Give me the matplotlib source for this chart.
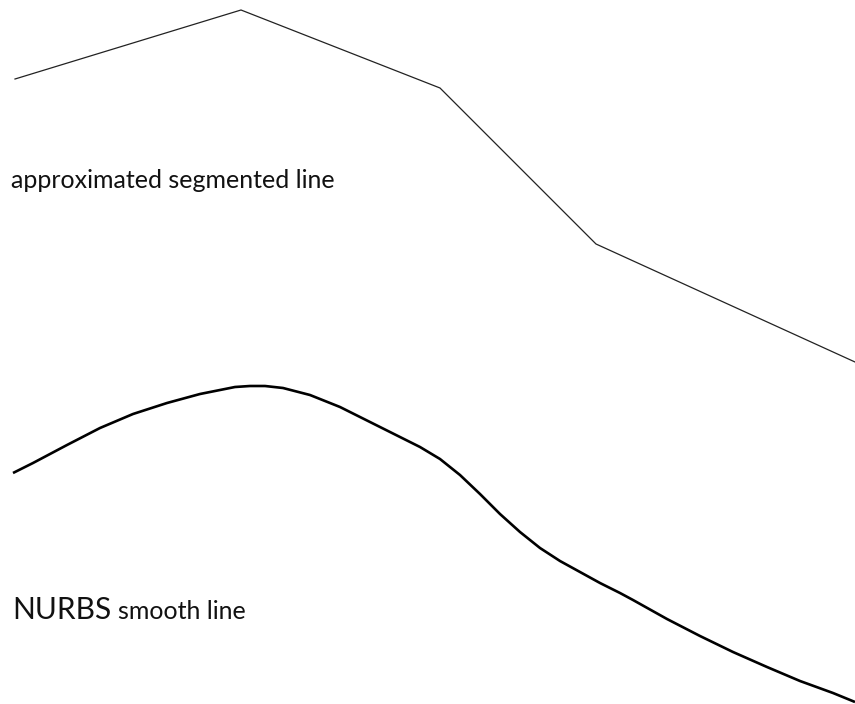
import matplotlib
matplotlib.use("Agg")
import matplotlib.pyplot as plt

# segmented polyline (pixel coords, y down)
seg_x = [15, 241, 440, 596, 855]
seg_y = [79, 10, 88, 244, 362]

# smooth curve, points read along the drawn NURBS
nurbs_x = [13, 33, 67, 100, 133, 167, 200, 220, 235, 250, 265, 283, 310, 340,
           370, 400, 420, 440, 460, 480, 500, 520, 540, 560, 580, 600, 620,
           633, 667, 700, 733, 767, 800, 833, 855]
nurbs_y = [473, 463, 445, 428, 414, 403, 394, 390, 387, 386, 386, 388, 395, 407,
           422, 437, 447, 459, 475, 494, 514, 532, 548, 561, 572, 583, 593,
           600, 619, 636, 652, 667, 681, 693, 702]

fig = plt.figure(figsize=(8.55, 7.04), dpi=100)
ax = fig.add_axes([0, 0, 1, 1])
ax.set_xlim(0, 855)
ax.set_ylim(704, 0)
ax.axis("off")

ax.plot(seg_x, seg_y, color="#222222", lw=0.9, solid_joinstyle="miter")
ax.plot(nurbs_x, nurbs_y, color="black", lw=1.9, solid_capstyle="butt",
        solid_joinstyle="round")

font = "Lato"
ax.text(11, 188, "approximated segmented line", fontsize=18, family=font,
        color="#111111", va="baseline", ha="left")
ax.text(12, 619, "NURBS", fontsize=21.5, family=font, color="#111111",
        va="baseline", ha="left")
ax.text(118, 619, "smooth line", fontsize=18, family=font, color="#111111",
        va="baseline", ha="left")

fig.savefig("out.png", dpi=100, facecolor="white")
